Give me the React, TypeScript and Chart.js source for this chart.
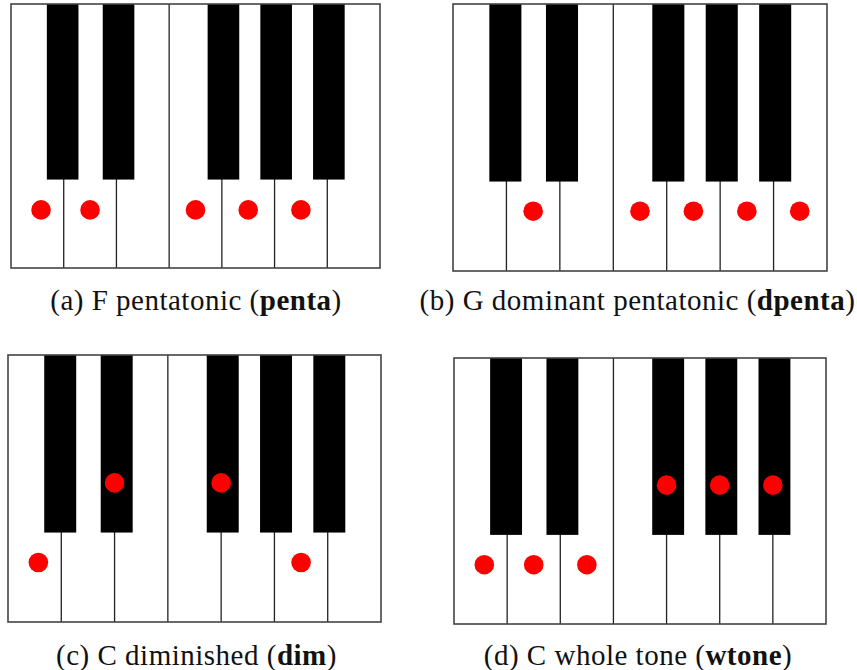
import React, { useEffect, useRef } from "react";
import { Chart, registerables } from "chart.js";

Chart.register(...registerables);

// Keyboard layout (in white-key units, 0..7) and black-key geometry
const whiteKeys = ["C", "D", "E", "F", "G", "A", "B"];
const blackKeys = ["C#", "D#", "F#", "G#", "A#"];
const blackKeyCenters = [0.98, 2.04, 4.03, 5.03, 6.03];
const blackKeyWidth = 0.6;
const blackKeyBottom = 0.335;

// Scale notes (x = key position, y = 0.22 white / 0.52 black)
const pentaX = [0.57, 1.5, 3.5, 4.5, 5.5];
const pentaY = [0.22, 0.22, 0.22, 0.22, 0.22];
const dpentaX = [1.5, 3.5, 4.5, 5.5, 6.49];
const dpentaY = [0.224, 0.224, 0.224, 0.224, 0.224];
const dimX = [0.57, 2.0, 4.0, 5.5];
const dimY = [0.223, 0.521, 0.521, 0.223];
const wtoneX = [0.57, 1.5, 2.5, 4.0, 5.0, 6.0];
const wtoneY = [0.223, 0.223, 0.223, 0.522, 0.522, 0.522];

const keyboardPlugin = {
  id: "keyboard",
  beforeDatasetsDraw(chart: any) {
    const { ctx, scales } = chart;
    const xs = scales.x;
    const ys = scales.y;
    const top = ys.getPixelForValue(1);
    const bottom = ys.getPixelForValue(0);
    const left = xs.getPixelForValue(0);
    const right = xs.getPixelForValue(whiteKeys.length);
    ctx.save();
    ctx.fillStyle = "#ffffff";
    ctx.fillRect(left, top, right - left, bottom - top);
    // white key dividers
    ctx.strokeStyle = "#222222";
    ctx.lineWidth = 1.3;
    for (let i = 1; i < whiteKeys.length; i++) {
      const px = xs.getPixelForValue(i);
      ctx.beginPath();
      ctx.moveTo(px, top);
      ctx.lineTo(px, bottom);
      ctx.stroke();
    }
    // black keys
    ctx.fillStyle = "#000000";
    const bBottom = ys.getPixelForValue(blackKeyBottom);
    blackKeys.forEach((_, i) => {
      const l = xs.getPixelForValue(blackKeyCenters[i] - blackKeyWidth / 2);
      const r = xs.getPixelForValue(blackKeyCenters[i] + blackKeyWidth / 2);
      ctx.fillRect(l, top, r - l, bBottom - top);
    });
    // frame
    ctx.strokeStyle = "#444444";
    ctx.lineWidth = 1.6;
    ctx.strokeRect(left, top, right - left, bottom - top);
    ctx.restore();
  },
};

type PanelProps = {
  xs: number[];
  ys: number[];
  left: number;
  top: number;
  width: number;
  height: number;
};

function Keyboard({ xs, ys, left, top, width, height }: PanelProps) {
  const ref = useRef<HTMLCanvasElement | null>(null);
  useEffect(() => {
    if (!ref.current) return;
    const chart = new Chart(ref.current, {
      type: "scatter",
      data: {
        datasets: [
          {
            data: xs.map((x, i) => ({ x, y: ys[i] })),
            backgroundColor: "#ff0000",
            borderWidth: 0,
            pointRadius: 9.8,
            pointHoverRadius: 9.8,
          },
        ],
      },
      options: {
        animation: false,
        responsive: false,
        devicePixelRatio: 1,
        layout: { padding: 1, autoPadding: false },
        plugins: {
          legend: { display: false },
          tooltip: { enabled: false },
          title: { display: false },
        },
        events: [],
        scales: {
          x: { type: "linear", min: 0, max: whiteKeys.length, display: false },
          y: { type: "linear", min: 0, max: 1, display: false },
        },
      },
      plugins: [keyboardPlugin],
    });
    return () => chart.destroy();
  }, []);
  return (
    <canvas
      ref={ref}
      width={width}
      height={height}
      style={{ position: "absolute", left, top, width, height }}
    />
  );
}

const captionStyle = (cx: number, cy: number): React.CSSProperties => ({
  position: "absolute",
  left: cx - 300,
  top: cy - 18,
  width: 600,
  textAlign: "center",
  fontFamily: "'Liberation Serif', 'DejaVu Serif', serif",
  fontSize: 29,
  letterSpacing: "0.5px",
  lineHeight: "36px",
  color: "#111",
  whiteSpace: "nowrap",
});

export default function App() {
  return (
    <div
      style={{
        position: "absolute",
        left: 0,
        top: 0,
        width: 857,
        height: 670,
        background: "#fff",
        overflow: "hidden",
      }}
    >
      <Keyboard xs={pentaX} ys={pentaY} left={10} top={3} width={371} height={266} />
      <Keyboard xs={dpentaX} ys={dpentaY} left={452} top={3} width={376} height={269} />
      <Keyboard xs={dimX} ys={dimY} left={7} top={354} width={375} height={269} />
      <Keyboard xs={wtoneX} ys={wtoneY} left={453} top={357} width={374} height={268} />
      <div style={captionStyle(196, 300)}>
        (a) F pentatonic (<b>penta</b>)
      </div>
      <div style={captionStyle(637.5, 300)}>
        (b) G dominant pentatonic (<b>dpenta</b>)
      </div>
      <div style={captionStyle(196.5, 655)}>
        (c) C diminished (<b>dim</b>)
      </div>
      <div style={captionStyle(638, 655)}>
        (d) C whole tone (<b>wtone</b>)
      </div>
    </div>
  );
}
